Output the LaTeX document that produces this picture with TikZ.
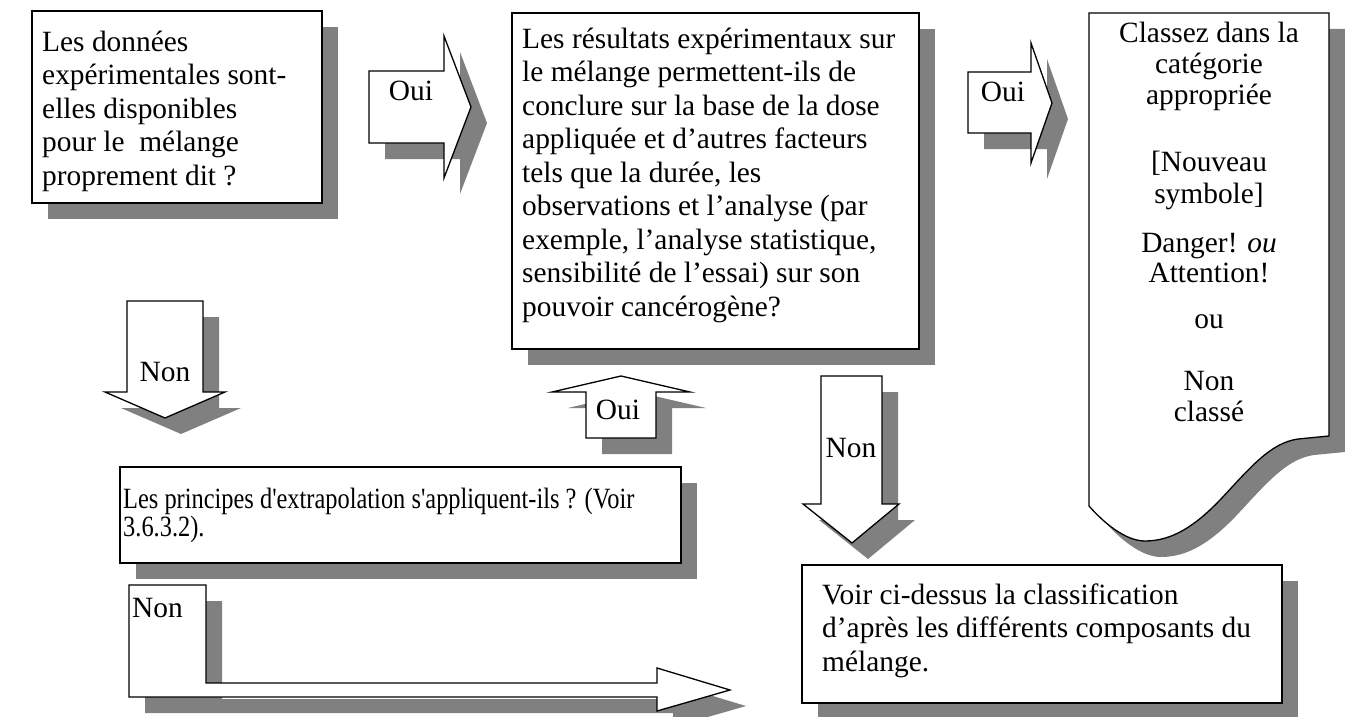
\documentclass[tikz,border=0pt]{standalone}
\usepackage{fontspec}
\setmainfont{Liberation Serif}
\newfontfamily\rawserif[Ligatures=TeXOff, FakeStretch=0.83]{Liberation Serif}
\definecolor{shadowgray}{HTML}{808080}
\newcommand\firstlinestrut{\rule{0pt}{24pt}}
\begin{document}
\begin{tikzpicture}[x=1pt,y=-1pt,
  shadowed/.style={preaction={fill=shadowgray, draw=none,
      transform canvas={shift={(16pt,-16pt)}}}},
  outline/.style={draw=black, line width=1.3pt, fill=white, line join=miter, shadowed},
  box/.style={outline, rectangle, inner sep=0pt, outer sep=0pt, anchor=north west},
  bodytext/.style={inner sep=0pt, align=left, anchor=north west,
      font=\fontsize{29.4}{33.5}\selectfont},
  narrowtext/.style={inner sep=0pt, align=left, anchor=north west,
      font=\rawserif\fontsize{29.4}{28}\selectfont},
  centertext/.style={inner sep=0pt, align=center, anchor=north,
      font=\fontsize{29.4}{31}\selectfont},
  arrowlabel/.style={inner sep=0pt, anchor=base,
      font=\fontsize{29.4}{33.5}\selectfont}]

\useasboundingbox (0,0) rectangle (1345,717);
\fill[white] (0,0) rectangle (1345,717);

% question boxes
\node[box, minimum width=290pt, minimum height=192pt] (q1) at (32,11) {};
\node[box, minimum width=407pt, minimum height=336pt] (q2) at (512,13) {};
\node[box, minimum width=561pt, minimum height=96pt]  (q3) at (120,467) {};
\node[box, minimum width=480pt, minimum height=138pt] (q4) at (802,565) {};

% result sheet with a wavy lower edge
\draw[outline] (1089,13) -- (1329,13) -- (1329,436) -- (1298,439)
  .. controls (1270,443) and (1250,468) .. (1220,500)
  .. controls (1195,526) and (1172,541) .. (1145,541)
  .. controls (1125,541) and (1103,522) .. (1089,506) -- cycle;

% block arrows
\draw[outline] (369,71) -- (444,71) -- (444,36) -- (471,107) -- (444,178)
  -- (444,143) -- (369,143) -- cycle;
\draw[outline] (968,72) -- (1031,72) -- (1031,43) -- (1052,103) -- (1031,163)
  -- (1031,133) -- (968,133) -- cycle;
\draw[outline] (127,301) -- (203,301) -- (203,392) -- (225,392) -- (165,418)
  -- (105,392) -- (127,392) -- cycle;
\draw[outline] (586,438) -- (656,438) -- (656,392) -- (690,392) -- (621,376)
  -- (552,392) -- (586,392) -- cycle;
\draw[outline] (821,376) -- (882,376) -- (882,504) -- (899,504) -- (852,543)
  -- (803,504) -- (821,504) -- cycle;
\draw[outline] (129,585) -- (206,585) -- (206,683) -- (657,683) -- (657,668)
  -- (730,690) -- (657,711) -- (657,697) -- (129,697) -- cycle;

% box texts
\node[bodytext] (q1text) at (42,27) {\firstlinestrut Les données\\
  expérimentales sont-\\elles disponibles\\pour le\ \ mélange\\proprement dit ?};
\node[bodytext] (q2text) at (522,24) {\firstlinestrut Les résultats expérimentaux sur\\
  le mélange permettent-ils de\\conclure sur la base de la dose\\
  appliquée et d’autres facteurs\\tels que la durée, les\\
  observations et l’analyse (par\\exemple, l’analyse statistique,\\
  sensibilité de l’essai) sur son\\pouvoir cancérogène?};
\node[narrowtext] (q3text) at (123,484) {\firstlinestrut Les principes d'extrapolation s'appliquent-ils ? (Voir\\3.6.3.2).};
\node[bodytext] (q4text) at (822,580) {\firstlinestrut Voir ci-dessus la classification\\
  d’après les différents composants du\\mélange.};
\node[centertext] (sheettext) at (1209,18) {\firstlinestrut Classez dans la\\catégorie\\
  appropriée\\[36pt][Nouveau\\[1pt]symbole]\\[18pt]Danger! \textit{ou}\\[-1pt]
  Attention!\\[15pt]ou\\[31pt]Non\\classé};

% arrow labels
\node[arrowlabel] (yes1) at (411,101) {Oui};
\node[arrowlabel] (yes2) at (1003,102) {Oui};
\node[arrowlabel] (no1) at (165,381) {Non};
\node[arrowlabel] (yes3) at (618,419) {Oui};
\node[arrowlabel] (no2) at (851,457) {Non};
\node[arrowlabel, anchor=base west] (no3) at (132,617) {Non};
\end{tikzpicture}
\end{document}
